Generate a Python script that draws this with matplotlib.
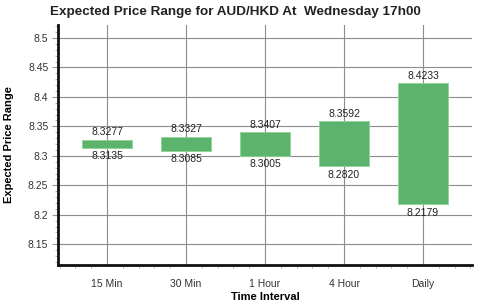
import matplotlib
matplotlib.use("Agg")
import matplotlib.pyplot as plt
from matplotlib.ticker import MultipleLocator

categories = ["15 Min", "30 Min", "1 Hour", "4 Hour", "Daily"]
highs = [8.3277, 8.3327, 8.3407, 8.3592, 8.4233]
lows = [8.3135, 8.3085, 8.3005, 8.2820, 8.2179]
yticks = [8.15, 8.2, 8.25, 8.3, 8.35, 8.4, 8.45, 8.5]

plt.rcParams['font.family'] = ['Liberation Sans', 'DejaVu Sans']

fig = plt.figure(figsize=(5.0, 3.08), dpi=100)
ax = fig.add_axes([58/500, 1-265/308, (472-58)/500, (265-25)/308])

x = list(range(len(categories)))
ax.bar(x, [h - l for h, l in zip(highs, lows)], bottom=lows, width=0.63,
       color="#5cb46c", edgecolor="#8fd49a", linewidth=0.6, zorder=3)

for xi, h, l in zip(x, highs, lows):
    ax.annotate(f"{h:.4f}", (xi, h), xytext=(0, 5.2), textcoords="offset points",
                ha="center", va="center", fontsize=7.5, color="#222222", zorder=4)
    ax.annotate(f"{l:.4f}", (xi, l), xytext=(0, -6.2), textcoords="offset points",
                ha="center", va="center", fontsize=7.5, color="#222222", zorder=4)

ax.set_xlim(-0.62, 4.62)
ax.set_ylim(8.1148, 8.522)
ax.set_xticks(x)
ax.set_xticklabels(categories)
ax.set_yticks(yticks)
ax.set_yticklabels([f"{v:g}" for v in yticks])
ax.xaxis.set_minor_locator(MultipleLocator(0.2))
ax.yaxis.set_minor_locator(MultipleLocator(0.01))

ax.grid(True, which="major", color="#8c8c8c", linewidth=0.8, zorder=0)
for s in ["top", "right"]:
    ax.spines[s].set_visible(False)
for s in ["left", "bottom"]:
    ax.spines[s].set_linewidth(2)
    ax.spines[s].set_color("#111111")

ax.tick_params(axis="both", which="major", labelsize=7.5, length=0, pad=6, labelcolor="#333333")
ax.tick_params(axis="y", which="major", length=4, color="#999999", pad=3)
ax.tick_params(axis="both", which="minor", length=2.5, color="#aaaaaa", width=0.6)
ax.tick_params(axis="x", which="major", pad=10)

ax.set_xlabel("Time Interval", fontsize=8, fontweight="bold", labelpad=2)
ax.set_ylabel("Expected Price Range", fontsize=8, fontweight="bold", labelpad=10)
fig.text(235/500, 1 - 12/308, "Expected Price Range for AUD/HKD At  Wednesday 17h00",
         ha="center", va="center", fontsize=9.7, fontweight="bold", color="#222222")

fig.savefig("out.png", dpi=100)
